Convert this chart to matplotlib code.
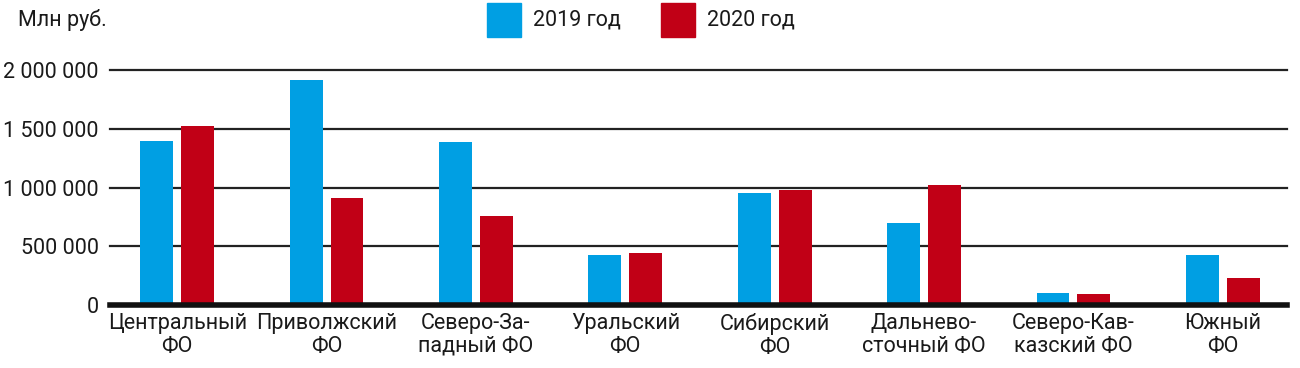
import numpy as np
import matplotlib.pyplot as plt
from matplotlib.patches import Rectangle

# data (Млн руб.)
regions = ["Центральный\nФО", "Приволжский\nФО", "Северо-За-\nпадный ФО", "Уральский\nФО",
           "Сибирский\nФО", "Дальнево-\nсточный ФО", "Северо-Кав-\nказский ФО", "Южный\nФО"]
v2019 = [1400000, 1915000, 1387000, 425000, 953000, 698000, 105000, 425000]
v2020 = [1523000, 910000, 757000, 440000, 980000, 1020000, 90000, 232000]
yticks = [0, 500000, 1000000, 1500000, 2000000]
ytick_labels = ["0", "500 000", "1 000 000", "1 500 000", "2 000 000"]

blue = "#009FE3"
red = "#C10016"

plt.rcParams['font.family'] = ['Roboto', 'DejaVu Sans']
fs = 15.5

fig = plt.figure(figsize=(13, 3.68), dpi=100)
ax = fig.add_axes([110/1300, 1-305/368, (1287-110)/1300, (305-70)/368])

x = np.arange(len(regions))
w = 0.22
ax.bar(x - 0.137, v2019, w, color=blue, zorder=3)
ax.bar(x + 0.137, v2020, w, color=red, zorder=3)

ax.set_xlim(-0.45, 7.43)
ax.set_ylim(0, 2000000)
for yv in yticks[1:]:
    ax.axhline(yv, color="#222222", lw=1.6, zorder=1, clip_on=False)
ax.axhline(0, color="#111111", lw=4, zorder=4, clip_on=False)

for s in ax.spines.values():
    s.set_visible(False)
ax.set_yticks(yticks)
ax.set_yticklabels(ytick_labels, fontsize=fs, color="#1a1a1a")
ax.set_xticks(x)
ax.set_xticklabels(regions, fontsize=fs, color="#1a1a1a", linespacing=1.1)
ax.tick_params(axis="both", length=0)
ax.tick_params(axis="y", pad=8)
ax.tick_params(axis="x", pad=6)

# header
fig.text(18/1300, 1-20/368, "Млн руб.", fontsize=fs, va="center", ha="left", color="#1a1a1a")
for xs, col, lab in [(487, blue, "2019 год"), (661, red, "2020 год")]:
    fig.patches.append(Rectangle((xs/1300, 1-37/368), 34/1300, 34/368,
                                 transform=fig.transFigure, color=col))
    fig.text((xs+46)/1300, 1-20/368, lab, fontsize=fs, va="center", ha="left", color="#1a1a1a")

fig.savefig("out.png", dpi=100)
